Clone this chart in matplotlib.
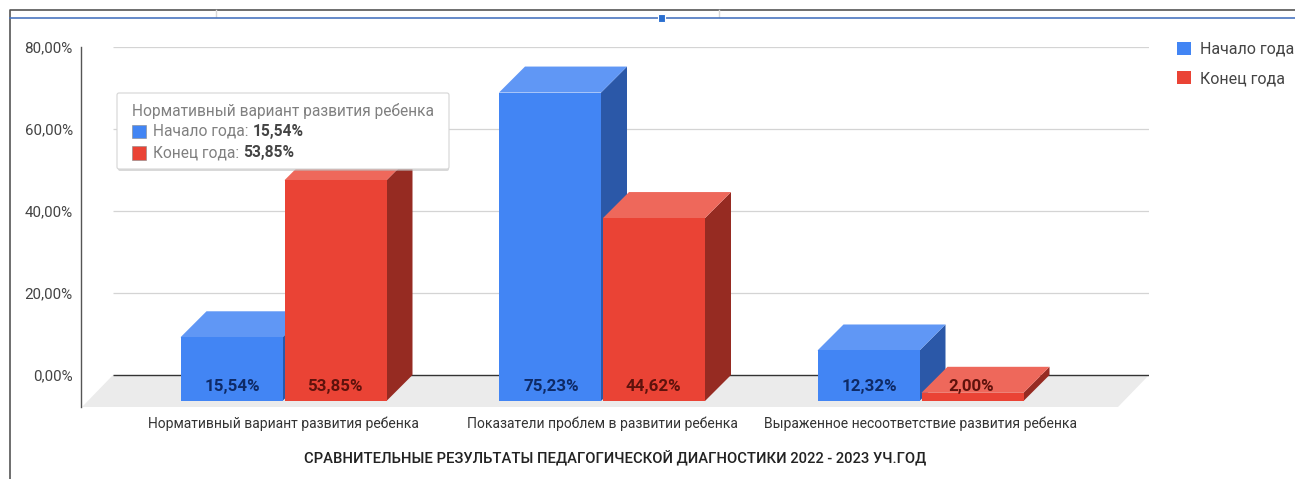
import matplotlib
matplotlib.use("Agg")
import matplotlib.pyplot as plt
from matplotlib.patches import Polygon, Rectangle, FancyBboxPatch, Patch

plt.rcParams["font.family"] = ["Roboto", "DejaVu Sans"]

# data
categories = ["Нормативный вариант развития ребенка",
              "Показатели проблем в развитии ребенка",
              "Выраженное несоответствие развития ребенка"]
start_year = [15.54, 75.23, 12.32]
end_year = [53.85, 44.62, 2.00]
series_names = ["Начало года", "Конец года"]
y_ticks = [0, 20, 40, 60, 80]
y_tick_labels = ["0,00%", "20,00%", "40,00%", "60,00%", "80,00%"]
chart_title = "СРАВНИТЕЛЬНЫЕ РЕЗУЛЬТАТЫ ПЕДАГОГИЧЕСКОЙ ДИАГНОСТИКИ 2022 - 2023 УЧ.ГОД"
tooltip_title = "Нормативный вариант развития ребенка"

W, H = 1295, 479
fig = plt.figure(figsize=(W / 100, H / 100), dpi=100, facecolor="white")

# plot area, 4.1 px per percent, 318.5 px per category
ax = fig.add_axes([81 / W, (H - 407) / H, 1068 / W, 360 / H])
ax.set_ylim(-32 / 4.1, 80)
ax.set_xlim((81 - 283.5) / 318.5, (1149 - 283.5) / 318.5)
ax.patch.set_alpha(0)

# 3d look
dx = 26 / 318.5
dy = 26 / 4.1
bar_w = 102 / 318.5
base = -dy


def draw_bar(x, value, front, top, side, z):
    left, right = x, x + bar_w
    height = base + value
    ax.add_patch(Polygon([(right, base), (right + dx, 0), (right + dx, height + dy), (right, height)],
                         fc=side, ec="none", zorder=z))
    ax.add_patch(Polygon([(left, height), (left + dx, height + dy), (right + dx, height + dy), (right, height)],
                         fc=top, ec="none", zorder=z))
    ax.add_patch(Rectangle((left, base), bar_w, value, fc=front, ec="none", zorder=z))


yax = ax.get_yaxis_transform()
floor_top_left = 32 / 1068
floor_bot_left = 1 / 1068
floor_bot_right = 1037 / 1068
ax.add_patch(Polygon([(floor_bot_left, base - 6 / 4.1), (floor_top_left, 0), (1, 0), (floor_bot_right, base - 6 / 4.1)],
                     fc="#ebebeb", ec="none", transform=yax, zorder=1))
ax.hlines(y_ticks[1:], floor_top_left, 1, transform=yax, color="#d4d4d4", lw=0.9, zorder=1)
ax.hlines(0, floor_top_left, 1, transform=yax, color="#333333", lw=1, zorder=2)

for i in range(len(categories)):
    draw_bar(i - bar_w - 1 / 318.5, start_year[i], "#4285f4", "#6097f5", "#2b58a8", 3)
    draw_bar(i + 1 / 318.5, end_year[i], "#ea4335", "#ee685b", "#962b22", 4)
    ax.text(i - bar_w / 2, -2.75, f"{start_year[i]:.2f}%".replace(".", ","), color="#0e2a66",
            fontsize=12.2, fontweight="bold", ha="center", va="center", zorder=5)
    ax.text(i + bar_w / 2, -2.75, f"{end_year[i]:.2f}%".replace(".", ","), color="#5e120c",
            fontsize=12.2, fontweight="bold", ha="center", va="center", zorder=5)

for s in ["top", "right", "bottom"]:
    ax.spines[s].set_visible(False)
ax.spines["left"].set_color("#555555")
ax.spines["left"].set_linewidth(1)
ax.set_yticks(y_ticks)
ax.set_yticklabels(y_tick_labels, color="#444444", fontsize=10.9)
ax.tick_params(axis="y", length=0, pad=6)
ax.set_xticks(range(len(categories)))
ax.set_xticklabels(categories, color="#333333", fontsize=10)
ax.tick_params(axis="x", length=0, pad=7)
ax.set_xlabel(chart_title, color="#222222", fontsize=10.65, fontweight="medium", labelpad=14)

fig.legend(handles=[Patch(fc="#4285f4"), Patch(fc="#ea4335")], labels=series_names,
           loc="upper left", bbox_to_anchor=(1174 / W, 1 - 38.5 / H), frameon=False,
           handlelength=0.85, handleheight=0.85, handletextpad=0.6, labelspacing=0.9,
           fontsize=11.5, labelcolor="#444444", borderpad=0.2, borderaxespad=0)

# screenshot furniture and tooltip, in pixels
over = fig.add_axes([0, 0, 1, 1], zorder=10)
over.set_xlim(0, W)
over.set_ylim(H, 0)
over.axis("off")
over.plot([10, 10, W], [H, 9.5, 9.5], color="#555555", lw=1.2)
over.plot([216, 216], [9.5, 17], color="#d8d8d8", lw=1)
over.plot([719, 719], [9.5, 17], color="#d8d8d8", lw=1)
over.plot([10, W], [17.5, 17.5], color="#4a76c0", lw=1.2)
over.add_patch(Rectangle((657.5, 14), 7, 7.5, fc="#2a6fd0", ec="white", lw=0.8, zorder=3))

over.add_patch(FancyBboxPatch((118, 95), 331, 76, boxstyle="round,pad=0,rounding_size=2",
                              fc="#bbbbbb", ec="none", alpha=0.55, zorder=4))
over.add_patch(FancyBboxPatch((117, 93), 332, 76, boxstyle="round,pad=0,rounding_size=2",
                              fc="white", ec="#d5d5d5", lw=0.8, zorder=5))
over.text(132, 110.5, tooltip_title, color="#808080", fontsize=11.2, va="center", zorder=6)
tip_rows = [(131.5, "#4285f4", series_names[0], start_year[0]), (153, "#ea4335", series_names[1], end_year[0])]
for y, col, name, val in tip_rows:
    over.add_patch(Rectangle((132, y - 7), 13.5, 13.5, fc=col, ec="#888888", lw=0.4, zorder=6))
    lab = over.text(153, y, name + ":", color="#808080", fontsize=11.2, va="center", zorder=6)
    fig.canvas.draw()
    bb = lab.get_window_extent()
    over.text(bb.x1 + 4, y, f"{val:.2f}%".replace(".", ","), color="#444444", fontsize=11.2,
              fontweight="bold", va="center", zorder=6)

fig.savefig("out.png", dpi=100)
